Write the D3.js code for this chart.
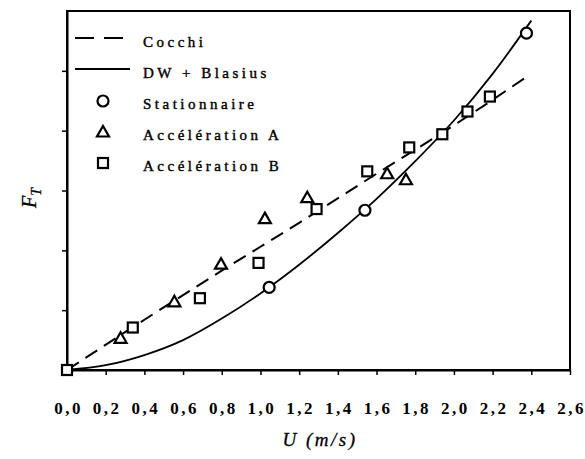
<!DOCTYPE html>
<html>
<head>
<meta charset="utf-8">
<script src="https://cdn.jsdelivr.net/npm/d3@7"></script>
<style>
	body { margin: 0; background: #fff; }
	text { font-family: "Liberation Serif", "DejaVu Serif", serif; fill: #000; }
</style>
</head>
<body>
<div id="chart"></div>
<script>
// values
const xTicks = [0, 0.2, 0.4, 0.6, 0.8, 1.0, 1.2, 1.4, 1.6, 1.8, 2.0, 2.2, 2.4, 2.6];
const yTicks = [1, 2, 3, 4, 5];

const cocchiU = [0, 0.4, 0.8, 1.2, 1.6, 2.0, 2.39];
const cocchiF = [0, 0.84, 1.66, 2.46, 3.28, 4.09, 4.93];

const dwU = [0, 0.2, 0.4, 0.6, 0.8, 1.0, 1.2, 1.4, 1.6, 1.8, 2.0, 2.2, 2.4];
const dwF = [0, 0.08, 0.25, 0.5, 0.86, 1.28, 1.76, 2.29, 2.86, 3.49, 4.17, 4.95, 5.84];

const statU = [1.045, 1.54, 2.375];
const statF = [1.38, 2.67, 5.63];

const accAU = [0.277, 0.555, 0.796, 1.023, 1.242, 1.655, 1.752];
const accAF = [0.53, 1.14, 1.77, 2.53, 2.88, 3.28, 3.18];

const accBU = [0, 0.34, 0.687, 0.99, 1.29, 1.552, 1.769, 1.94, 2.07, 2.186];
const accBF = [0, 0.71, 1.2, 1.79, 2.69, 3.32, 3.72, 3.94, 4.32, 4.57];

const legendLabels = ["Cocchi", "DW + Blasius", "Stationnaire", "Accélération A", "Accélération B"];

const width = 585, height = 459;
const x = d3.scaleLinear().domain([0, 2.6]).range([67, 570]);
const y = d3.scaleLinear().domain([0, 6]).range([370, 11]);

const svg = d3.select("#chart").append("svg")
	.attr("width", width)
	.attr("height", height);

// frame
svg.append("rect")
	.attr("x", x(0)).attr("y", y(6))
	.attr("width", x(2.6) - x(0)).attr("height", y(0) - y(6))
	.attr("fill", "none").attr("stroke", "#000").attr("stroke-width", 2);

// x axis
const xAxis = svg.append("g")
	.attr("transform", `translate(0,${y(0)})`)
	.call(d3.axisBottom(x).tickValues(xTicks).tickSize(5).tickSizeOuter(0)
		.tickFormat((d) => d3.format(".1f")(d).replace(".", ",")));
xAxis.select(".domain").attr("stroke-width", 2);
xAxis.selectAll(".tick line").attr("stroke-width", 1.5);
xAxis.selectAll(".tick text")
	.attr("y", 32)
	.attr("dx", 1)
	.style("font-family", "Liberation Serif")
	.style("font-size", "17px")
	.style("font-weight", "bold")
	.style("letter-spacing", "2.5px");

// y axis, ticks only
const yAxis = svg.append("g")
	.attr("transform", `translate(${x(0)},0)`)
	.call(d3.axisLeft(y).tickValues(yTicks).tickSize(5).tickSizeOuter(0).tickFormat(""));
yAxis.select(".domain").attr("stroke-width", 2);
yAxis.selectAll(".tick line").attr("stroke-width", 1.5);

// curves
const line = d3.line()
	.x((d) => x(d[0]))
	.y((d) => y(d[1]))
	.curve(d3.curveMonotoneX);

svg.append("path")
	.datum(cocchiU.map((u, i) => [u, cocchiF[i]]))
	.attr("d", line)
	.attr("fill", "none").attr("stroke", "#000").attr("stroke-width", 2)
	.attr("stroke-dasharray", "14,8");

svg.append("path")
	.datum(dwU.map((u, i) => [u, dwF[i]]))
	.attr("d", line)
	.attr("fill", "none").attr("stroke", "#000").attr("stroke-width", 1.8);

// markers
function marker(sel, type) {
	if (type == "circle") {
		sel.append("circle").attr("r", 5.5);
	} else if (type == "triangle") {
		sel.append("path").attr("d", "M0,-6L6,4.5L-6,4.5Z");
	} else {
		sel.append("rect").attr("x", -5).attr("y", -5).attr("width", 10).attr("height", 10);
	}
	sel.selectAll("*").attr("fill", "#fff").attr("stroke", "#000").attr("stroke-width", 2.2);
}

function drawPoints(us, fs, type) {
	svg.append("g")
		.selectAll("g")
		.data(us.map((u, i) => [u, fs[i]]))
		.enter()
		.append("g")
		.attr("transform", (d) => `translate(${x(d[0])},${y(d[1])})`)
		.each(function () {
			marker(d3.select(this), type);
		});
}

drawPoints(statU, statF, "circle");
drawPoints(accAU, accAF, "triangle");
drawPoints(accBU, accBF, "square");

// legend
const legend = svg.append("g");
const rowY = [47, 78, 109, 140, 171];
legend.selectAll("text")
	.data(legendLabels)
	.enter()
	.append("text")
	.attr("x", 143)
	.attr("y", (d, i) => rowY[i])
	.attr("stroke", "#000")
	.attr("stroke-width", 0.4)
	.style("font-size", "15px")
	.style("letter-spacing", "3.5px")
	.text((d) => d);

legend.append("line")
	.attr("x1", 75).attr("x2", 123).attr("y1", 38).attr("y2", 38)
	.attr("stroke", "#000").attr("stroke-width", 2).attr("stroke-dasharray", "19,10");
legend.append("line")
	.attr("x1", 75).attr("x2", 130).attr("y1", 69).attr("y2", 69)
	.attr("stroke", "#000").attr("stroke-width", 2);
["circle", "triangle", "square"].forEach((t, i) => {
	const g = legend.append("g").attr("transform", `translate(103,${rowY[i + 2] - 8})`);
	marker(g, t);
});

// axis titles
svg.append("text")
	.attr("x", 320).attr("y", 446)
	.attr("text-anchor", "middle")
	.attr("stroke", "#000")
	.attr("stroke-width", 0.3)
	.style("font-size", "19px")
	.style("font-style", "italic")
	.style("letter-spacing", "2.5px")
	.text("U (m/s)");

const ft = svg.append("text")
	.attr("transform", "translate(36,198) rotate(-90)")
	.attr("text-anchor", "middle")
	.attr("stroke", "#000")
	.attr("stroke-width", 0.3)
	.style("font-size", "20px")
	.style("font-style", "italic");
ft.append("tspan").text("F");
ft.append("tspan").attr("dy", 5).style("font-size", "14px").text("T");
</script>
</body>
</html>
